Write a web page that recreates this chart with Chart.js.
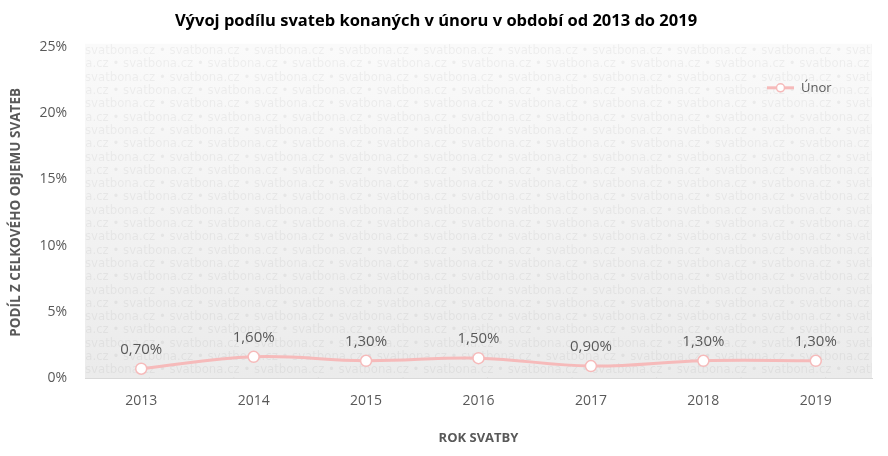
<!DOCTYPE html>
<html>
<head>
<meta charset="utf-8">
<script src="https://cdn.jsdelivr.net/npm/chart.js@4.4.1/dist/chart.umd.min.js"></script>
<style>
  html, body { margin: 0; padding: 0; background: #fff; }
  #wrap { width: 888px; height: 456px; }
</style>
</head>
<body>
<div id="wrap"><canvas id="chart"></canvas></div>
<script>
/* data */
const YEARS = ["2013", "2014", "2015", "2016", "2017", "2018", "2019"];
const UNOR = [0.7, 1.6, 1.3, 1.5, 0.9, 1.3, 1.3];
const Y_TICKS = [0, 5, 10, 15, 20, 25];
const SERIES_NAME = "Únor";

const FONT = "'Open Sans', 'Noto Sans', sans-serif";
const GREY = "#595959";
const PINK = "#f6baba";

// watermark background behind plot
const watermark = {
  id: "watermark",
  beforeDatasetsDraw(chart) {
    const { ctx, chartArea: a } = chart;
    ctx.save();
    const g = ctx.createLinearGradient(0, a.top, 0, a.bottom);
    g.addColorStop(0, "#fafafa");
    g.addColorStop(1, "#ebebeb");
    ctx.fillStyle = g;
    ctx.fillRect(a.left, a.top - 3, a.right - a.left, a.bottom - a.top + 3);
    ctx.beginPath();
    ctx.rect(a.left, a.top - 3, a.right - a.left, a.bottom - a.top + 3);
    ctx.clip();
    ctx.font = "13px 'DejaVu Sans Condensed', 'Roboto', sans-serif";
    ctx.fillStyle = "rgba(0,0,0,0.05)";
    ctx.textBaseline = "middle";
    const word = "svatbona.cz \u2022 ";
    const w = ctx.measureText(word).width;
    let row = 0;
    for (let y = a.top + 4; y < a.bottom + 10; y += 13.3, row++) {
      let x = a.left + (row % 2 ? -w * 0.55 : 0);
      for (; x < a.right; x += w) ctx.fillText(word, x, y);
    }
    ctx.restore();
  }
};

// value labels + legend inside plot
const labelsAndLegend = {
  id: "labelsAndLegend",
  afterDatasetsDraw(chart) {
    const { ctx, chartArea: a } = chart;
    const meta = chart.getDatasetMeta(0);
    ctx.save();
    ctx.font = "15px " + FONT;
    ctx.fillStyle = GREY;
    ctx.textAlign = "center";
    ctx.textBaseline = "middle";
    meta.data.forEach((pt, i) => {
      const txt = UNOR[i].toFixed(2).replace(".", ",") + "%";
      ctx.fillText(txt, pt.x, pt.y - 19);
    });
    // legend
    const lx = a.right - 105, ly = a.top + 41;
    ctx.strokeStyle = PINK;
    ctx.lineWidth = 3;
    ctx.beginPath();
    ctx.moveTo(lx, ly);
    ctx.lineTo(lx + 27, ly);
    ctx.stroke();
    ctx.fillStyle = "#fff";
    ctx.lineWidth = 1.5;
    ctx.beginPath();
    ctx.arc(lx + 13.5, ly, 4, 0, Math.PI * 2);
    ctx.fill();
    ctx.stroke();
    ctx.fillStyle = GREY;
    ctx.font = "13px " + FONT;
    ctx.textAlign = "left";
    ctx.fillText(SERIES_NAME, lx + 34, ly);
    ctx.restore();
  }
};

new Chart(document.getElementById("chart"), {
  type: "line",
  data: {
    labels: YEARS,
    datasets: [{
      label: SERIES_NAME,
      data: UNOR,
      borderColor: PINK,
      borderWidth: 3,
      tension: 0.4,
      pointRadius: 5.5,
      pointBackgroundColor: "#fff",
      pointBorderColor: PINK,
      pointBorderWidth: 1.5
    }]
  },
  options: {
    responsive: true,
    maintainAspectRatio: false,
    animation: false,
    layout: { padding: { left: 0, right: 16, top: 0, bottom: 0 } },
    plugins: {
      legend: { display: false },
      tooltip: { enabled: false },
      title: {
        display: true,
        text: "Vývoj podílu svateb konaných v únoru v období od 2013 do 2019",
        color: "#000",
        font: { family: FONT, size: 16.5, weight: "bold" },
        padding: { top: 11, bottom: 16 }
      }
    },
    scales: {
      x: {
        offset: true,
        grid: { display: false },
        border: { color: "#d9d9d9", width: 1 },
        ticks: { color: GREY, font: { family: FONT, size: 14 }, padding: 7 },
        title: {
          display: true,
          text: "ROK SVATBY",
          color: GREY,
          font: { family: FONT, size: 13, weight: "bold" },
          padding: { top: 4, bottom: 10 }
        },
        afterFit: (s) => { s.height = 78; }
      },
      y: {
        min: 0,
        max: 25,
        afterBuildTicks: (s) => { s.ticks = Y_TICKS.map(v => ({ value: v })); },
        grid: { display: false },
        border: { display: false },
        ticks: {
          color: GREY,
          font: { family: FONT, size: 14 },
          padding: 10,
          callback: (v) => v + "%"
        },
        title: {
          display: true,
          text: "PODÍL Z CELKOVÉHO OBJEMU SVATEB",
          color: GREY,
          font: { family: FONT, size: 13.5, weight: "bold" },
          padding: { top: 8, bottom: 0 }
        },
        afterFit: (s) => { s.width = 85; }
      }
    }
  },
  plugins: [watermark, labelsAndLegend]
});
</script>
</body>
</html>
